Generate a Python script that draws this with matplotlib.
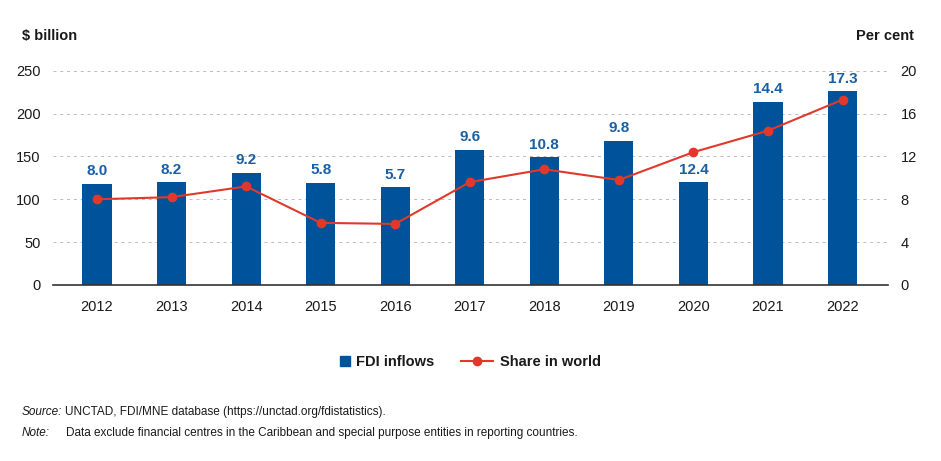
import matplotlib
matplotlib.use("Agg")
import matplotlib.pyplot as plt
from matplotlib.lines import Line2D
import numpy as np

years = ["2012", "2013", "2014", "2015", "2016", "2017", "2018", "2019", "2020", "2021", "2022"]
fdi_inflows = [118, 120, 131, 119, 114, 158, 149, 168, 120, 214, 226]
share_world = [8.0, 8.2, 9.2, 5.8, 5.7, 9.6, 10.8, 9.8, 12.4, 14.4, 17.3]
left_ticks = [0, 50, 100, 150, 200, 250]
right_ticks = [0, 4, 8, 12, 16, 20]

plt.rcParams['font.family'] = ['Liberation Sans', 'DejaVu Sans']

BLUE = "#00529B"
LABEL_BLUE = "#1A5FA3"
RED = "#E0392B"
TXT = "#1a1a1a"

fig = plt.figure(figsize=(9.41, 4.61), dpi=100)
ax = fig.add_axes([0.0563, 0.3818, 0.8874, 0.4648])
ax2 = ax.twinx()

x = np.arange(len(years))
ax.bar(x, fdi_inflows, width=0.39, color=BLUE, zorder=2)
ax.set_xlim(-0.59, 10.61)
ax.set_ylim(0, 250)
ax.set_yticks(left_ticks)
ax.set_xticks(x)
ax.set_xticklabels(years)
ax.grid(axis='y', color="#bbbbbb", linestyle=(0, (3, 4)), linewidth=0.7, zorder=0)
for s in ["top", "right", "left"]:
    ax.spines[s].set_visible(False)
ax.spines["bottom"].set_color("#333333")
ax.spines["bottom"].set_linewidth(1.2)
ax.tick_params(axis='x', length=0, labelsize=10.5, colors=TXT, pad=11)
ax.tick_params(axis='y', length=0, labelsize=10.5, colors=TXT, pad=9)

ax2.plot(x, share_world, color=RED, linewidth=1.5, marker='o', markersize=6, zorder=3)
ax2.set_ylim(0, 20)
ax2.set_yticks(right_ticks)
for s in ["top", "right", "left", "bottom"]:
    ax2.spines[s].set_visible(False)
ax2.tick_params(axis='y', length=0, labelsize=10.5, colors=TXT, pad=9)

for xi, v, s in zip(x, fdi_inflows, share_world):
    ax.annotate(f"{s:.1f}", (xi, v), xytext=(0, 4), textcoords="offset points",
                ha='center', va='bottom', fontsize=11, fontweight='bold', color=LABEL_BLUE)

fig.text(0.023, 0.922, "$ billion", fontsize=10.5, fontweight='bold', color=TXT, ha='left', va='center')
fig.text(0.971, 0.922, "Per cent", fontsize=10.5, fontweight='bold', color=TXT, ha='right', va='center')

h1 = [Line2D([0], [0], color=BLUE, linestyle='none', marker='s', markersize=7)]
h2 = [Line2D([0], [0], color=RED, linewidth=1.5, marker='o', markersize=6)]
leg1 = fig.legend(h1, ["FDI inflows"], loc='center right', bbox_to_anchor=(0.475, 0.215),
                  frameon=False, fontsize=10.5, handlelength=0.7, handletextpad=0.4)
leg2 = fig.legend(h2, ["Share in world"], loc='center left', bbox_to_anchor=(0.476, 0.215),
                  frameon=False, fontsize=10.5, handlelength=2.2, handletextpad=0.5)
for leg in (leg1, leg2):
    for t in leg.get_texts():
        t.set_fontweight('bold')
        t.set_color(TXT)

src_lbl = fig.text(0.023, 0.106, "Source:", fontsize=8.5, style='italic', color=TXT, ha='left', va='center')
fig.canvas.draw()
bb = src_lbl.get_window_extent(renderer=fig.canvas.get_renderer())
src_x = (bb.x1 + 3) / fig.bbox.width
fig.text(src_x, 0.106, "UNCTAD, FDI/MNE database (https://unctad.org/fdistatistics).",
         fontsize=8.5, color=TXT, ha='left', va='center')
fig.text(0.023, 0.060, "Note:", fontsize=8.5, style='italic', color=TXT, ha='left', va='center')
fig.text(0.070, 0.060, "Data exclude financial centres in the Caribbean and special purpose entities in reporting countries.",
         fontsize=8.5, color=TXT, ha='left', va='center')
fig.savefig("out.png", dpi=100)
